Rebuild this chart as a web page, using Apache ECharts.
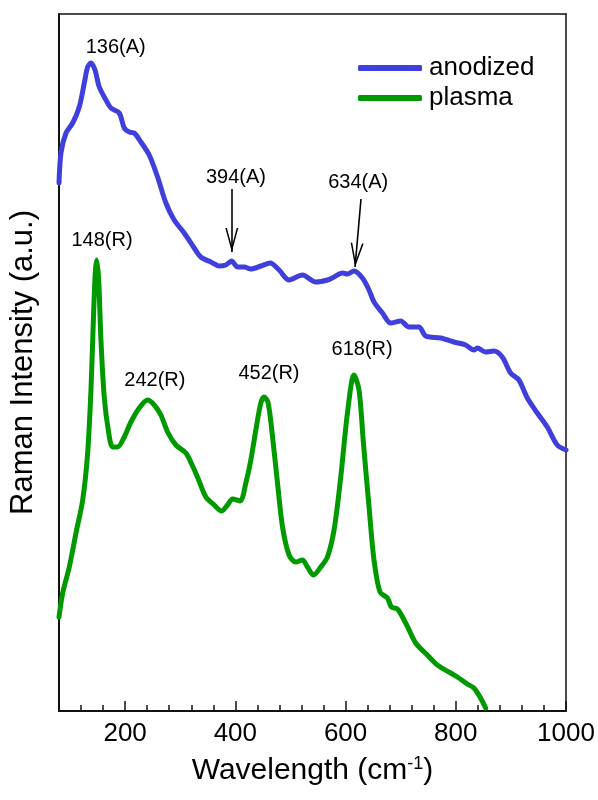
<!DOCTYPE html>
<html>
<head>
<meta charset="utf-8">
<script src="https://cdn.jsdelivr.net/npm/echarts@6/dist/echarts.min.js"></script>
<style>html,body{margin:0;padding:0;background:#fff}#c{width:598px;height:800px}</style>
</head>
<body>
<div id="c"></div>
<script>
// Raman shift (cm-1) and intensity (a.u.)
var anodizedX = [80, 83.6, 92.7, 104.8, 116.8, 125.9, 132, 138, 145.3, 153.1, 165.2, 174.3, 189.3, 198.4, 207.5, 216.5, 228.7, 243.7, 258.9, 274, 289, 307.2, 325.3, 337.4, 355.6, 370.6, 382.8, 393.1, 404, 416, 428.1, 446.2, 463.1, 479.4, 497.5, 521.8, 545.9, 567.1, 579.1, 594.3, 603.4, 615.4, 630.6, 642.6, 651.6, 666.9, 681.9, 700, 715.1, 733.2, 745.4, 772.6, 796.7, 817.9, 832.9, 839.1, 854.2, 869.2, 884.4, 899.5, 914.5, 929.8, 947.9, 966, 984.1, 1000];
var anodizedY = [528, 558, 578, 588, 604, 628, 644, 648, 641, 624, 611, 603, 598, 583, 579, 578, 569, 556, 534, 508, 491, 478, 463, 454, 449, 445, 446, 450, 444, 444, 442, 445, 448, 441, 431, 436, 429, 431, 434, 438, 437, 440, 433, 421, 409, 398, 388, 390, 384, 384, 375, 373, 369, 366, 361, 363, 359, 360, 354, 338, 331, 313, 298, 284, 266, 261];
var plasmaX = [80, 86.7, 98.7, 110.8, 123, 132, 138, 142.2, 145.8, 148.4, 152, 156.1, 162.1, 169.4, 177.4, 186.4, 198.4, 210.5, 225.6, 240.8, 252.8, 264.9, 277.1, 292.1, 310.3, 322.4, 332, 346.5, 361.6, 375, 385.8, 394.9, 408.7, 419, 428.1, 437.2, 446.2, 452.2, 459.5, 467.5, 476.5, 485.6, 497.5, 509.7, 521.8, 530.9, 541.8, 555, 567.1, 579.1, 591.3, 603.4, 615.4, 624.4, 632.4, 642.6, 651.6, 662.5, 675.9, 683.2, 694, 709.1, 727.2, 748.4, 766.5, 790.7, 802.8, 820.9, 832.9, 845, 854.2];
var plasmaY = [94, 118, 144, 178, 211, 258, 321, 388, 438, 451, 431, 371, 314, 281, 264, 264, 274, 289, 303, 311, 306, 296, 279, 266, 258, 245, 233, 214, 206, 200, 206, 212, 210, 228, 251, 281, 308, 314, 308, 274, 228, 184, 156, 149, 151, 144, 136, 144, 154, 181, 234, 298, 336, 321, 268, 204, 151, 119, 113, 104, 102, 88, 68, 56, 46, 38, 34, 27, 23, 13, 3];

var seriesNames = ['anodized', 'plasma'];
var majorTicks = [200, 400, 600, 800, 1000];
var minorTicks = [120, 160, 240, 280, 320, 360, 440, 480, 520, 560, 640, 680, 720, 760, 840, 880, 920, 960];

// peak annotations: [label, x, y]
var anodizedPeakLabels = [['136(A)', 183, 664], ['394(A)', 401, 534], ['634(A)', 623, 529]];
var plasmaPeakLabels = [['148(R)', 158, 471], ['242(R)', 254, 331], ['452(R)', 461, 338], ['618(R)', 630, 362]];
// arrows: [x0, y0, x1(tip), y1(tip)]
var arrows = [[393.6, 522, 393.6, 459], [628, 512, 617.2, 444]];

function pairs(xs, ys) { return xs.map(function (x, i) { return [x, ys[i]]; }); }
var FONT = 'Liberation Sans, Arial, sans-serif';

var chart = echarts.init(document.getElementById('c'), null, {renderer: 'canvas'});
var arrowHead = 'path://M4.9,0 L5.1,0 L5.1,0.05 L4.9,0.05 Z M5,10 L10,20 L8.8,20 L5,12.4 L1.2,20 L0,20 Z';

chart.setOption({
  animation: false,
  backgroundColor: '#fff',
  textStyle: {fontFamily: FONT},
  grid: {left: 58, right: 32, top: 14, bottom: 89},
  legend: {
    orient: 'vertical', left: 358, top: 55, padding: 0, itemGap: 4,
    itemWidth: 64, itemHeight: 6, icon: 'roundRect',
    textStyle: {fontSize: 26, color: '#000', fontFamily: FONT, lineHeight: 26, padding: [0, 0, 0, 2]},
    data: seriesNames
  },
  xAxis: [
    {
      type: 'value', min: 80, max: 1000, position: 'bottom',
      axisLine: {show: true, lineStyle: {color: '#111', width: 2}},
      axisTick: {show: true, inside: true, length: 10, customValues: majorTicks, lineStyle: {color: '#111', width: 1.5}},
      axisLabel: {show: true, customValues: majorTicks, fontSize: 26, color: '#000', margin: 10, fontFamily: FONT,
        formatter: function (v) { return String(v); }},
      splitLine: {show: false},
      name: '{n|Wavelength (cm}{s|-1}{n|)}', nameLocation: 'middle', nameGap: 44,
      nameTextStyle: {rich: {n: {fontSize: 30, color: '#000', fontFamily: FONT, lineHeight: 32}, s: {fontSize: 18, color: '#000', fontFamily: FONT, verticalAlign: 'top', lineHeight: 32, padding: [0, 0, 14, 0]}}}
    },
    {
      type: 'value', min: 80, max: 1000, position: 'bottom', gridIndex: 0,
      axisLine: {show: false},
      axisTick: {show: true, inside: true, length: 6, customValues: minorTicks, lineStyle: {color: '#111', width: 1.5}},
      axisLabel: {show: false}, splitLine: {show: false}
    },
    {
      type: 'value', min: 80, max: 1000, position: 'top',
      axisLine: {show: true, onZero: false, lineStyle: {color: '#111', width: 1.5}},
      axisTick: {show: false}, axisLabel: {show: false}, splitLine: {show: false}
    }
  ],
  yAxis: [
    {
      type: 'value', min: 0, max: 697, position: 'left',
      axisLine: {show: true, onZero: false, lineStyle: {color: '#111', width: 2}},
      axisTick: {show: false}, axisLabel: {show: false}, splitLine: {show: false},
      name: 'Raman Intensity (a.u.)', nameLocation: 'middle', nameGap: 20,
      nameTextStyle: {fontSize: 31, color: '#000', fontFamily: FONT}
    },
    {
      type: 'value', min: 0, max: 697, position: 'right',
      axisLine: {show: true, onZero: false, lineStyle: {color: '#111', width: 1.5}},
      axisTick: {show: false}, axisLabel: {show: false}, splitLine: {show: false}
    }
  ],
  series: [
    {
      name: seriesNames[0], type: 'line', xAxisIndex: 0, yAxisIndex: 0,
      data: pairs(anodizedX, anodizedY), showSymbol: false, smooth: 0.3,
      color: '#3f3fdc',
      lineStyle: {width: 5, color: '#3f3fdc', cap: 'round', join: 'round'},
      markPoint: {
        symbol: 'rect', symbolSize: 1, itemStyle: {color: 'rgba(0,0,0,0)'},
        label: {show: true, position: 'inside', color: '#000', fontSize: 20, fontFamily: FONT, formatter: function (p) { return p.name; }},
        data: anodizedPeakLabels.map(function (a) { return {name: a[0], coord: [a[1], a[2]]}; })
      },
      markLine: {
        silent: true, symbol: ['none', arrowHead], symbolSize: [13, 48],
        lineStyle: {color: '#000', width: 1.6, type: 'solid'}, label: {show: false},
        data: arrows.map(function (a) { return [{coord: [a[0], a[1]]}, {coord: [a[2], a[3]]}]; })
      }
    },
    {
      name: seriesNames[1], type: 'line', xAxisIndex: 0, yAxisIndex: 0,
      data: pairs(plasmaX, plasmaY), showSymbol: false, smooth: 0.3,
      color: '#009a00',
      lineStyle: {width: 5, color: '#009a00', cap: 'round', join: 'round'},
      markPoint: {
        symbol: 'rect', symbolSize: 1, itemStyle: {color: 'rgba(0,0,0,0)'},
        label: {show: true, position: 'inside', color: '#000', fontSize: 20, fontFamily: FONT, formatter: function (p) { return p.name; }},
        data: plasmaPeakLabels.map(function (a) { return {name: a[0], coord: [a[1], a[2]]}; })
      }
    }
  ]
});
</script>
</body>
</html>
